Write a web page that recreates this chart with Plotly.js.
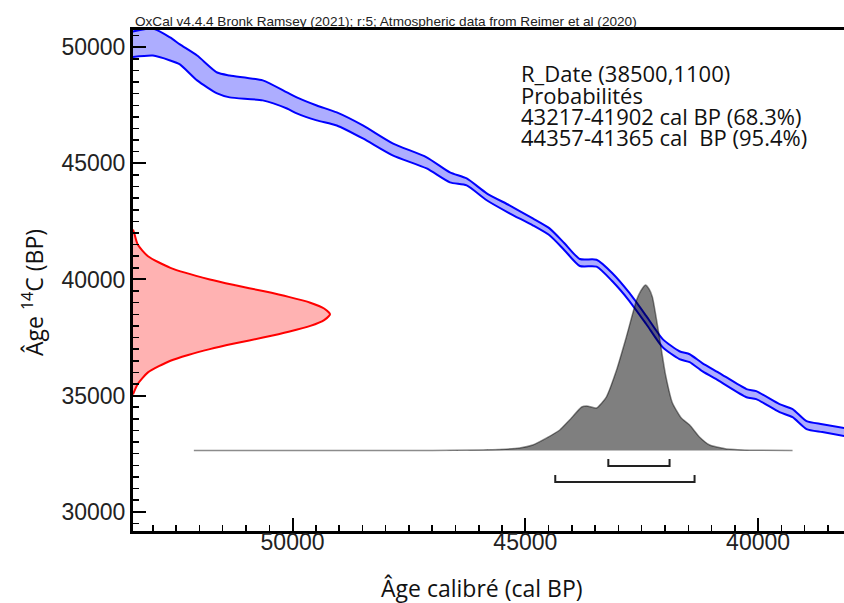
<!DOCTYPE html>
<html>
<head>
<meta charset="utf-8">
<script src="https://cdn.plot.ly/plotly-3.0.1.min.js"></script>
<style>html,body{margin:0;padding:0;background:#fff;}#chart{width:844px;height:603px;}</style>
</head>
<body>
<div id="chart"></div>
<script>
// Calibration curve (IntCal20) band: calendar age (cal BP) and 14C age limits (BP)
const curveCalBP = [53500, 53000, 52630, 52420, 52050, 51620, 51350, 50640, 50120, 49910, 49480, 49050, 48490, 47850, 47120, 46620, 46260, 45830, 45340, 44840, 44480, 44160, 43830, 43470, 43130, 42760, 42400, 42050, 41690, 41470, 41200, 40830, 40250, 40040, 39540, 39260, 38960, 38620, 38100];
const curveUpper = [50650, 50800, 50420, 50120, 49640, 48910, 48780, 48570, 48050, 47840, 47490, 47190, 46630, 45860, 45260, 44610, 44350, 43710, 43190, 42630, 42200, 41560, 40880, 40850, 40270, 39410, 38420, 37430, 36910, 36780, 36400, 35970, 35280, 35190, 34630, 34420, 33900, 33770, 33580];
const curveLower = [49560, 49640, 49430, 49260, 48570, 48010, 47840, 47710, 47360, 47150, 46850, 46630, 46070, 45340, 44780, 44180, 44050, 43410, 42850, 42330, 41900, 41260, 40580, 40550, 39920, 39060, 38070, 37080, 36570, 36440, 36050, 35620, 34930, 34850, 34290, 34070, 33560, 33430, 33240];

// R_Date (38500,1100): 14C age (BP) and relative probability
const rdateC14 = [35050, 35500, 36000, 36500, 36750, 37000, 37250, 37500, 37750, 38000, 38250, 38500, 38750, 39000, 39250, 39500, 39750, 40000, 40500, 41000, 41500, 42000, 42150];
const rdateProb = [0, 0.024, 0.076, 0.19, 0.28, 0.39, 0.52, 0.66, 0.79, 0.90, 0.97, 1.0, 0.97, 0.90, 0.79, 0.66, 0.52, 0.39, 0.19, 0.076, 0.024, 0.006, 0];

// Calibrated probability distribution: cal BP and relative probability
const postCalBP = [52120, 47000, 46000, 45550, 45120, 44840, 44540, 44260, 44050, 43790, 43680, 43470, 43260, 43040, 42830, 42610, 42520, 42420, 42340, 42270, 42140, 41990, 41840, 41650, 41470, 41260, 41040, 40680, 40190, 39260];
const postProb = [0, 0, 0.003, 0.006, 0.015, 0.033, 0.076, 0.124, 0.184, 0.263, 0.269, 0.257, 0.323, 0.486, 0.686, 0.909, 0.964, 1.0, 0.975, 0.927, 0.72, 0.46, 0.287, 0.196, 0.154, 0.082, 0.033, 0.009, 0.002, 0];

// Highest probability ranges (cal BP)
const range68 = [43217, 41902];
const range95 = [44357, 41365];

const yTicks = [30000, 35000, 40000, 45000, 50000];
const xTicks = [50000, 45000, 40000];
const infoLines = ["R_Date (38500,1100)", "Probabilités", "43217-41902 cal BP (68.3%)", "44357-41365 cal  BP (95.4%)"];
const captionText = "OxCal v4.4.4 Bronk Ramsey (2021); r:5; Atmospheric data from Reimer et al (2020)";
const xTitle = "Âge calibré (cal BP)";
const yTitle = "Âge <sup>14</sup>C (BP)";

// bracket vertical placement (in probability units of the overlay axis)
const bracketRows = [{r: range68, base: -0.094, tip: -0.051}, {r: range95, base: -0.190, tip: -0.148}];

const bandLine = {color: '#0000ff', width: 2, shape: 'spline', smoothing: 0.6};
const traces = [
  {x: curveCalBP, y: curveUpper, type: 'scatter', mode: 'lines', line: bandLine, hoverinfo: 'skip'},
  {x: curveCalBP, y: curveLower, type: 'scatter', mode: 'lines', fill: 'tonexty', fillcolor: 'rgba(0,0,255,0.32)', line: bandLine, hoverinfo: 'skip'},
  {x: rdateProb, y: rdateC14, xaxis: 'x2', yaxis: 'y', type: 'scatter', mode: 'lines', fill: 'tozerox', fillcolor: 'rgba(255,0,0,0.3)', line: {color: '#ff0000', width: 2, shape: 'spline', smoothing: 0.6}, hoverinfo: 'skip'},
  {x: postCalBP, y: postProb, xaxis: 'x', yaxis: 'y2', type: 'scatter', mode: 'lines', fill: 'tozeroy', fillcolor: 'rgba(0,0,0,0.5)', line: {color: 'rgba(0,0,0,0.45)', width: 1.5, shape: 'spline', smoothing: 0.5}, hoverinfo: 'skip'}
];
bracketRows.forEach(b => {
  traces.push({x: [b.r[0], b.r[0], b.r[1], b.r[1]], y: [b.tip, b.base, b.base, b.tip], xaxis: 'x', yaxis: 'y2', type: 'scatter', mode: 'lines', line: {color: '#222', width: 2}, hoverinfo: 'skip'});
});

const axisFont = {family: 'Liberation Sans, Arial, sans-serif', size: 23, color: '#222'};
const titleFont = {family: 'Open Sans, sans-serif', size: 23, color: '#111'};

const annotations = infoLines.map((t, i) => ({
  xref: 'paper', yref: 'paper', x: (519 - 133) / 711, y: (531 - (73.5 + i * 21.3)) / 501,
  xanchor: 'left', yanchor: 'middle', text: t, showarrow: false,
  font: {family: 'Open Sans, sans-serif', size: 22, color: '#111'}
}));
annotations.push({
  xref: 'paper', yref: 'paper', x: 0, y: 1, xanchor: 'left', yanchor: 'bottom', yshift: -1,
  text: captionText, showarrow: false,
  font: {family: 'Liberation Sans, Arial, sans-serif', size: 13.6, color: '#222'}
});
annotations.push({
  xref: 'paper', yref: 'paper', x: (482 - 133) / 711, y: (531 - 588) / 501,
  xanchor: 'center', yanchor: 'middle', text: xTitle, showarrow: false, font: titleFont
});
annotations.push({
  xref: 'paper', yref: 'paper', x: (33 - 133) / 711, y: (531 - 293) / 501,
  xanchor: 'center', yanchor: 'middle', textangle: -90, text: yTitle, showarrow: false, font: titleFont
});

const layout = {
  width: 844, height: 603,
  margin: {l: 133, r: 0, t: 30, b: 72},
  paper_bgcolor: '#fff', plot_bgcolor: '#fff',
  showlegend: false,
  hovermode: false,
  xaxis: {
    range: [53427, 38155], showgrid: false, zeroline: false,
    showline: true, linecolor: '#000', linewidth: 3, mirror: true,
    ticks: 'inside', ticklen: 13, tickwidth: 2, tickcolor: '#000',
    tickvals: xTicks, ticktext: xTicks.map(String), tickfont: axisFont, ticklabelstandoff: -12,
    minor: {tick0: 0, dtick: 500, ticks: 'inside', ticklen: 6, tickwidth: 1.5, tickcolor: '#000', showgrid: false}
  },
  yaxis: {
    range: [29170, 50740], showgrid: false, zeroline: false,
    showline: true, linecolor: '#000', linewidth: 3, mirror: false,
    ticks: 'inside', ticklen: 13, tickwidth: 2, tickcolor: '#000',
    tickvals: yTicks, ticktext: yTicks.map(String), tickfont: axisFont,
    minor: {tick0: 0, dtick: 500, ticks: 'inside', ticklen: 6, tickwidth: 1.5, tickcolor: '#000', showgrid: false}
  },
  xaxis2: {overlaying: 'x', anchor: 'y', range: [0, 3.609], visible: false, fixedrange: true},
  yaxis2: {overlaying: 'y', anchor: 'x', range: [-0.4864, 2.541], visible: false, fixedrange: true},
  annotations: annotations
};

Plotly.newPlot('chart', traces, layout, {staticPlot: true, displayModeBar: false});
</script>
</body>
</html>
